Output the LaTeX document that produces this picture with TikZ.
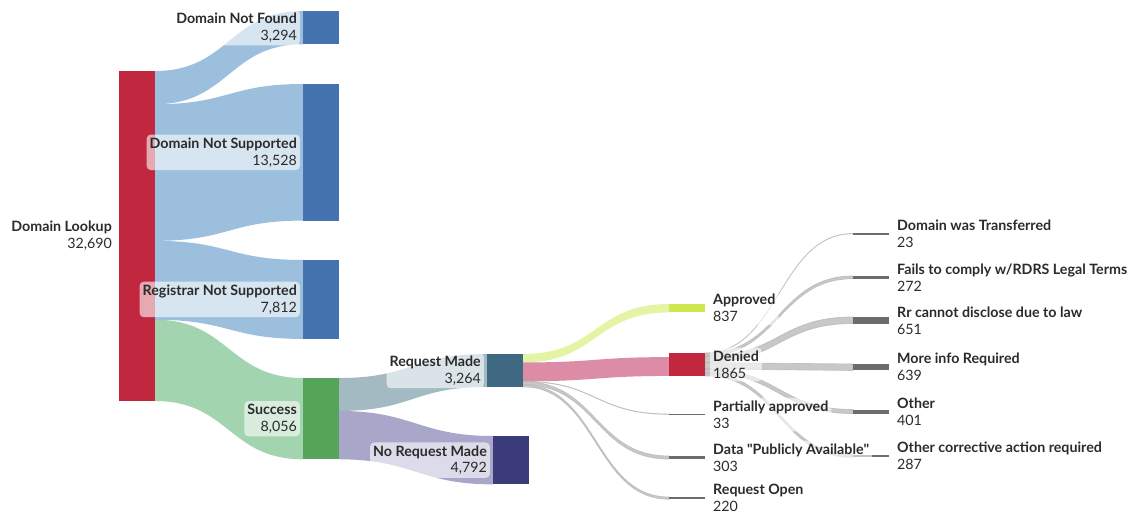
\documentclass[tikz,border=0pt]{standalone}
\usepackage{fontspec}
\setmainfont{Lato}
\usetikzlibrary{positioning, calc, backgrounds}
\definecolor{lookupred}{HTML}{C1283F}
\definecolor{failblue}{HTML}{4573B0}
\definecolor{failflow}{HTML}{9DBFDE}
\definecolor{okgreen}{HTML}{56A457}
\definecolor{okflow}{HTML}{A2D4AF}
\definecolor{reqbar}{HTML}{3F6983}
\definecolor{reqflow}{HTML}{A3BAC3}
\definecolor{noreqbar}{HTML}{3B3B7B}
\definecolor{noreqflow}{HTML}{A8A6C9}
\definecolor{apprbar}{HTML}{CFE74C}
\definecolor{apprflow}{HTML}{E3F4A4}
\definecolor{denyflow}{HTML}{DC8CA4}
\definecolor{greybar}{HTML}{6C6C6C}
\definecolor{greyflow}{HTML}{B5B5B5}
\definecolor{labeltext}{HTML}{2B2B2B}
\tikzset{
    bar/.style={
        rectangle, anchor=north west, minimum width=36bp,
        inner sep=0pt, outer sep=0pt
    },
    thinband/.style={
        fill=greyflow, draw=greyflow, line width=0.7bp,
        fill opacity=0.75, draw opacity=0.75
    },
    tag/.style={
        rectangle, rounded corners=4bp, fill=white, fill opacity=0.6,
        text opacity=1, inner sep=3bp, text=labeltext,
        font=\fontsize{14.3}{17}\selectfont
    },
    tagleft/.style={tag, align=right},
    tagright/.style={tag, align=left}
}
% flow band: source, source offset, target, target offset, thickness, style
\newcommand{\sankeyflow}[6]{%
    \fill[#6] ($(#1.north east)+(0,#2)$)
        .. controls +(74,0) and +(-74,0) .. ($(#3.north west)+(0,#4)$)
        -- ($(#3.north west)+(0,#4+#5)$)
        .. controls +(-74,0) and +(74,0) .. ($(#1.north east)+(0,#2+#5)$)
        -- cycle;}

\begin{document}
\begin{tikzpicture}[x=1bp, y=-1bp]

    \useasboundingbox (0,0) rectangle (1131,516);

    % stages
    \node[bar, fill=lookupred, minimum height=330bp]   (lookup)      at (119,71)    {};
    \node[bar, fill=failblue, minimum height=33.25bp]  (notfound)    at (303,11)    {};
    \node[bar, fill=failblue, minimum height=136.6bp]  (notsupp)     at (303,84)    {};
    \node[bar, fill=failblue, minimum height=78.9bp]   (noregistrar) at (303,260)   {};
    \node[bar, fill=okgreen, minimum height=81.3bp]    (success)     at (303,378)   {};
    \node[bar, fill=reqbar, minimum height=33bp]       (reqmade)     at (487,354)   {};
    \node[bar, fill=noreqbar, minimum height=48.4bp]   (noreq)       at (493,436)   {};
    \node[bar, fill=apprbar, minimum height=8.45bp]    (approved)    at (669,304)   {};
    \node[bar, fill=lookupred, minimum height=22.95bp] (denied)      at (669,353)   {};
    \node[bar, fill=greybar, minimum height=1.2bp]     (partial)     at (669,414)   {};
    \node[bar, fill=greybar, minimum height=3bp]       (public)      at (669,456)   {};
    \node[bar, fill=greybar, minimum height=2.2bp]     (reqopen)     at (669,497)   {};
    \node[bar, fill=greybar, minimum height=1.2bp]     (transferred) at (853,233.5) {};
    \node[bar, fill=greybar, minimum height=2.75bp]    (legalterms)  at (853,276)   {};
    \node[bar, fill=greybar, minimum height=6.6bp]     (bylaw)       at (853,317)   {};
    \node[bar, fill=greybar, minimum height=6.45bp]    (moreinfo)    at (853,364)   {};
    \node[bar, fill=greybar, minimum height=4.05bp]    (other)       at (853,409.5) {};
    \node[bar, fill=greybar, minimum height=2.9bp]     (corrective)  at (853,454.5) {};

    % flows
    \begin{scope}[on background layer]
    \sankeyflow{lookup}{0}{notfound}{0}{33.25}{failflow}
    \sankeyflow{lookup}{33.25}{notsupp}{0}{136.6}{failflow}
    \sankeyflow{lookup}{169.85}{noregistrar}{0}{78.9}{failflow}
    \sankeyflow{lookup}{248.7}{success}{0}{81.3}{okflow}
    \sankeyflow{success}{0}{reqmade}{0}{32.95}{reqflow}
    \sankeyflow{success}{32.95}{noreq}{0}{48.35}{noreqflow}
    \sankeyflow{reqmade}{0}{approved}{0}{8.45}{apprflow}
    \sankeyflow{reqmade}{8.45}{denied}{4.1}{18.85}{denyflow}
    \sankeyflow{reqmade}{27.3}{partial}{0}{0.33}{thinband}
    \sankeyflow{reqmade}{27.63}{public}{0}{3.06}{thinband}
    \sankeyflow{reqmade}{30.69}{reqopen}{0}{2.22}{thinband}
    \sankeyflow{denied}{0}{transferred}{0}{0.23}{thinband}
    \sankeyflow{denied}{0.23}{legalterms}{0}{2.75}{thinband}
    \sankeyflow{denied}{2.98}{bylaw}{0}{6.57}{thinband}
    \sankeyflow{denied}{9.55}{moreinfo}{0}{6.45}{thinband}
    \sankeyflow{denied}{16}{other}{0}{4.05}{thinband}
    \sankeyflow{denied}{20.05}{corrective}{0}{2.9}{thinband}
    \end{scope}

    % labels
    \node[tagleft, left=4bp of lookup]       (lookuptag)      {\textbf{Domain Lookup}\\32,690};
    \node[tagleft, left=3bp of notfound]     (notfoundtag)    {\textbf{Domain Not Found}\\3,294};
    \node[tagleft, left=3bp of notsupp]      (notsupptag)     {\textbf{Domain Not Supported}\\13,528};
    \node[tagleft, left=3bp of noregistrar]  (noregistrartag) {\textbf{Registrar Not Supported}\\7,812};
    \node[tagleft, left=3bp of success]      (successtag)     {\textbf{Success}\\8,056};
    \node[tagleft, left=3bp of reqmade]      (reqmadetag)     {\textbf{Request Made}\\3,264};
    \node[tagleft, left=3bp of noreq]        (noreqtag)       {\textbf{No Request Made}\\4,792};
    \node[tagright, right=5bp of approved]   (approvedtag)    {\textbf{Approved}\\837};
    \node[tagright, right=5bp of denied]     (deniedtag)      {\textbf{Denied}\\1865};
    \node[tagright, right=5bp of partial]    (partialtag)     {\textbf{Partially approved}\\33};
    \node[tagright, right=5bp of public]     (publictag)      {\textbf{Data \textquotedbl Publicly Available\textquotedbl}\\303};
    \node[tagright, right=5bp of reqopen]    (reqopentag)     {\textbf{Request Open}\\220};
    \node[tagright, right=5bp of transferred] (transferredtag) {\textbf{Domain was Transferred}\\23};
    \node[tagright, right=5bp of legalterms] (legaltermstag)  {\textbf{Fails to comply w/RDRS Legal Terms}\\272};
    \node[tagright, right=5bp of bylaw]      (bylawtag)       {\textbf{Rr cannot disclose due to law}\\651};
    \node[tagright, right=5bp of moreinfo]   (moreinfotag)    {\textbf{More info Required}\\639};
    \node[tagright, right=5bp of other]      (othertag)       {\textbf{Other}\\401};
    \node[tagright, right=5bp of corrective] (correctivetag)  {\textbf{Other corrective action required}\\287};

\end{tikzpicture}
\end{document}
